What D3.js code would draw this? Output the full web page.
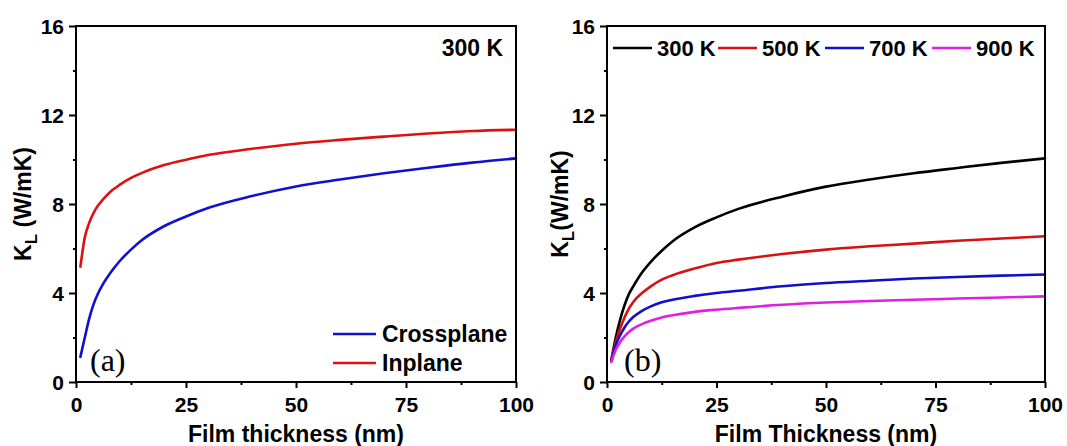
<!DOCTYPE html>
<html>
<head>
<meta charset="utf-8">
<script src="https://cdn.jsdelivr.net/npm/d3@7/dist/d3.min.js"></script>
<style>
  html, body { margin: 0; padding: 0; background: #fff; }
  svg { display: block; }
  text { font-family: "Liberation Sans", Arial, Helvetica, sans-serif; font-weight: bold; fill: #000; }
</style>
</head>
<body>
<svg id="chart" width="1067" height="446"></svg>
<script>
// Film thickness samples (nm)
const thickness = [1, 2, 3, 4, 5, 6, 8, 10, 12.5, 15, 20, 25, 30, 40, 50, 60, 70, 80, 90, 100];

// Panel (a): lattice thermal conductivity at 300 K (W/mK)
const crossplane = [1.13, 2.0, 2.85, 3.5, 3.98, 4.35, 4.95, 5.45, 5.95, 6.38, 7.0, 7.44, 7.82, 8.36, 8.79, 9.1, 9.38, 9.63, 9.86, 10.05];
const inplane    = [5.18, 6.5, 7.15, 7.6, 7.93, 8.17, 8.58, 8.87, 9.17, 9.4, 9.75, 9.99, 10.2, 10.48, 10.71, 10.88, 11.03, 11.17, 11.28, 11.34];

// Panel (b): cross-plane conductivity at several temperatures (W/mK)
const k300 = [1.0, 2.0, 2.8, 3.45, 3.95, 4.3, 4.92, 5.4, 5.9, 6.33, 6.95, 7.4, 7.78, 8.33, 8.78, 9.1, 9.38, 9.62, 9.85, 10.05];
const k500 = [0.97, 1.8, 2.4, 2.9, 3.3, 3.6, 4.0, 4.3, 4.6, 4.8, 5.1, 5.35, 5.5, 5.75, 5.95, 6.1, 6.22, 6.35, 6.45, 6.55];
const k700 = [0.95, 1.65, 2.1, 2.45, 2.72, 2.92, 3.2, 3.4, 3.58, 3.7, 3.87, 4.0, 4.1, 4.3, 4.45, 4.55, 4.65, 4.72, 4.78, 4.83];
const k900 = [0.9, 1.45, 1.8, 2.05, 2.25, 2.4, 2.6, 2.75, 2.9, 3.0, 3.15, 3.25, 3.33, 3.47, 3.57, 3.64, 3.7, 3.75, 3.8, 3.85];

const xMajorTicks = [0, 25, 50, 75, 100];
const xMinorTicks = [12.5, 37.5, 62.5, 87.5];
const yMajorTicks = [0, 4, 8, 12, 16];
const yMinorTicks = [2, 6, 10, 14];

const seriesA = [
  { name: "Crossplane", values: crossplane, color: "#1010d0" },
  { name: "Inplane",    values: inplane,    color: "#e01010" }
];
const seriesB = [
  { name: "300 K", values: k300, color: "#000000" },
  { name: "500 K", values: k500, color: "#d81010" },
  { name: "700 K", values: k700, color: "#1010c8" },
  { name: "900 K", values: k900, color: "#e020e0" }
];

const svg = d3.select("#chart");

function drawPanel(opts) {
  const { left, right, top, bottom, series, xTitle, yTitleGap, yTitleX, tag, tagX } = opts;
  const x = d3.scaleLinear().domain([0, 100]).range([left, right]);
  const y = d3.scaleLinear().domain([0, 16]).range([bottom, top]);
  const g = svg.append("g");

  // curves
  const line = d3.line()
    .x((d, i) => x(thickness[i]))
    .y(d => y(d))
    .curve(d3.curveMonotoneX);
  g.selectAll("path.curve").data(series).enter().append("path")
    .attr("class", "curve")
    .attr("d", s => line(s.values))
    .attr("fill", "none")
    .attr("stroke", s => s.color)
    .attr("stroke-width", 2.6)
    .attr("stroke-linejoin", "round")
    .attr("stroke-linecap", "round");

  // x axis: major + minor ticks
  const xAxis = g.append("g").attr("transform", `translate(0,${bottom})`)
    .call(d3.axisBottom(x).tickValues(xMajorTicks).tickSize(6).tickFormat(d3.format("d")));
  xAxis.select(".domain").remove();
  xAxis.selectAll("line").attr("stroke", "#000").attr("stroke-width", 2);
  xAxis.selectAll("text").attr("y", 30).attr("dy", 0).style("font-size", "21px");
  const xMinor = g.append("g").attr("transform", `translate(0,${bottom})`)
    .call(d3.axisBottom(x).tickValues(xMinorTicks).tickSize(3).tickFormat(""));
  xMinor.select(".domain").remove();
  xMinor.selectAll("line").attr("stroke", "#000").attr("stroke-width", 2);

  // y axis: major + minor ticks
  const yAxis = g.append("g").attr("transform", `translate(${left},0)`)
    .call(d3.axisLeft(y).tickValues(yMajorTicks).tickSize(7).tickFormat(d3.format("d")));
  yAxis.select(".domain").remove();
  yAxis.selectAll("line").attr("stroke", "#000").attr("stroke-width", 2);
  yAxis.selectAll("text").attr("x", -yTitleGap).attr("dy", "0.36em").style("font-size", "21px");
  const yMinor = g.append("g").attr("transform", `translate(${left},0)`)
    .call(d3.axisLeft(y).tickValues(yMinorTicks).tickSize(3).tickFormat(""));
  yMinor.select(".domain").remove();
  yMinor.selectAll("line").attr("stroke", "#000").attr("stroke-width", 2);

  // frame
  g.append("rect")
    .attr("x", left).attr("y", top)
    .attr("width", right - left).attr("height", bottom - top)
    .attr("fill", "none").attr("stroke", "#000").attr("stroke-width", 2);

  // axis titles
  g.append("text")
    .attr("x", (left + right) / 2).attr("y", 442)
    .attr("text-anchor", "middle")
    .style("font-size", "23px")
    .text(xTitle);

  const yt = g.append("text")
    .attr("transform", `translate(${yTitleX},${(top + bottom) / 2}) rotate(-90)`)
    .attr("text-anchor", "middle")
    .style("font-size", "23px");
  yt.append("tspan").text("K");
  yt.append("tspan").attr("dy", 6).style("font-size", "17px").text("L");
  yt.append("tspan").attr("dy", -6).text(opts.yUnit);

  // panel tag
  g.append("text")
    .attr("x", tagX).attr("y", 371)
    .style("font-family", "'Liberation Serif', 'Times New Roman', serif")
    .style("font-weight", "normal")
    .style("font-size", "32px")
    .text(tag);

  return { g, x, y };
}

// Panel (a)
const pa = drawPanel({
  left: 76, right: 516, top: 26, bottom: 382,
  series: seriesA, xTitle: "Film thickness (nm)",
  yTitleGap: 12, yTitleX: 31, yUnit: " (W/mK)",
  tag: "(a)", tagX: 90
});
pa.g.append("text")
  .attr("x", 503).attr("y", 48).attr("dy", "0.36em")
  .attr("text-anchor", "end")
  .style("font-size", "23px")
  .text("300 K");
const legA = pa.g.selectAll("g.leg").data(seriesA).enter().append("g")
  .attr("transform", (d, i) => `translate(333,${334 + i * 29})`);
legA.append("line").attr("x1", 0).attr("x2", 43)
  .attr("stroke", d => d.color).attr("stroke-width", 2.6);
legA.append("text").attr("x", 49).attr("dy", "0.36em")
  .style("font-size", "23px").text(d => d.name);

// Panel (b)
const pb = drawPanel({
  left: 607, right: 1045, top: 26, bottom: 382,
  series: seriesB, xTitle: "Film Thickness (nm)",
  yTitleGap: 12, yTitleX: 568, yUnit: "(W/mK)",
  tag: "(b)", tagX: 624
});
const legBx = [613, 718, 825, 932];
const legB = pb.g.selectAll("g.leg").data(seriesB).enter().append("g")
  .attr("transform", (d, i) => `translate(${legBx[i]},48)`);
legB.append("line").attr("x1", 0).attr("x2", 39)
  .attr("stroke", d => d.color).attr("stroke-width", 2.6);
legB.append("text").attr("x", 44).attr("dy", "0.36em")
  .style("font-size", "22px").text(d => d.name);
</script>
</body>
</html>
